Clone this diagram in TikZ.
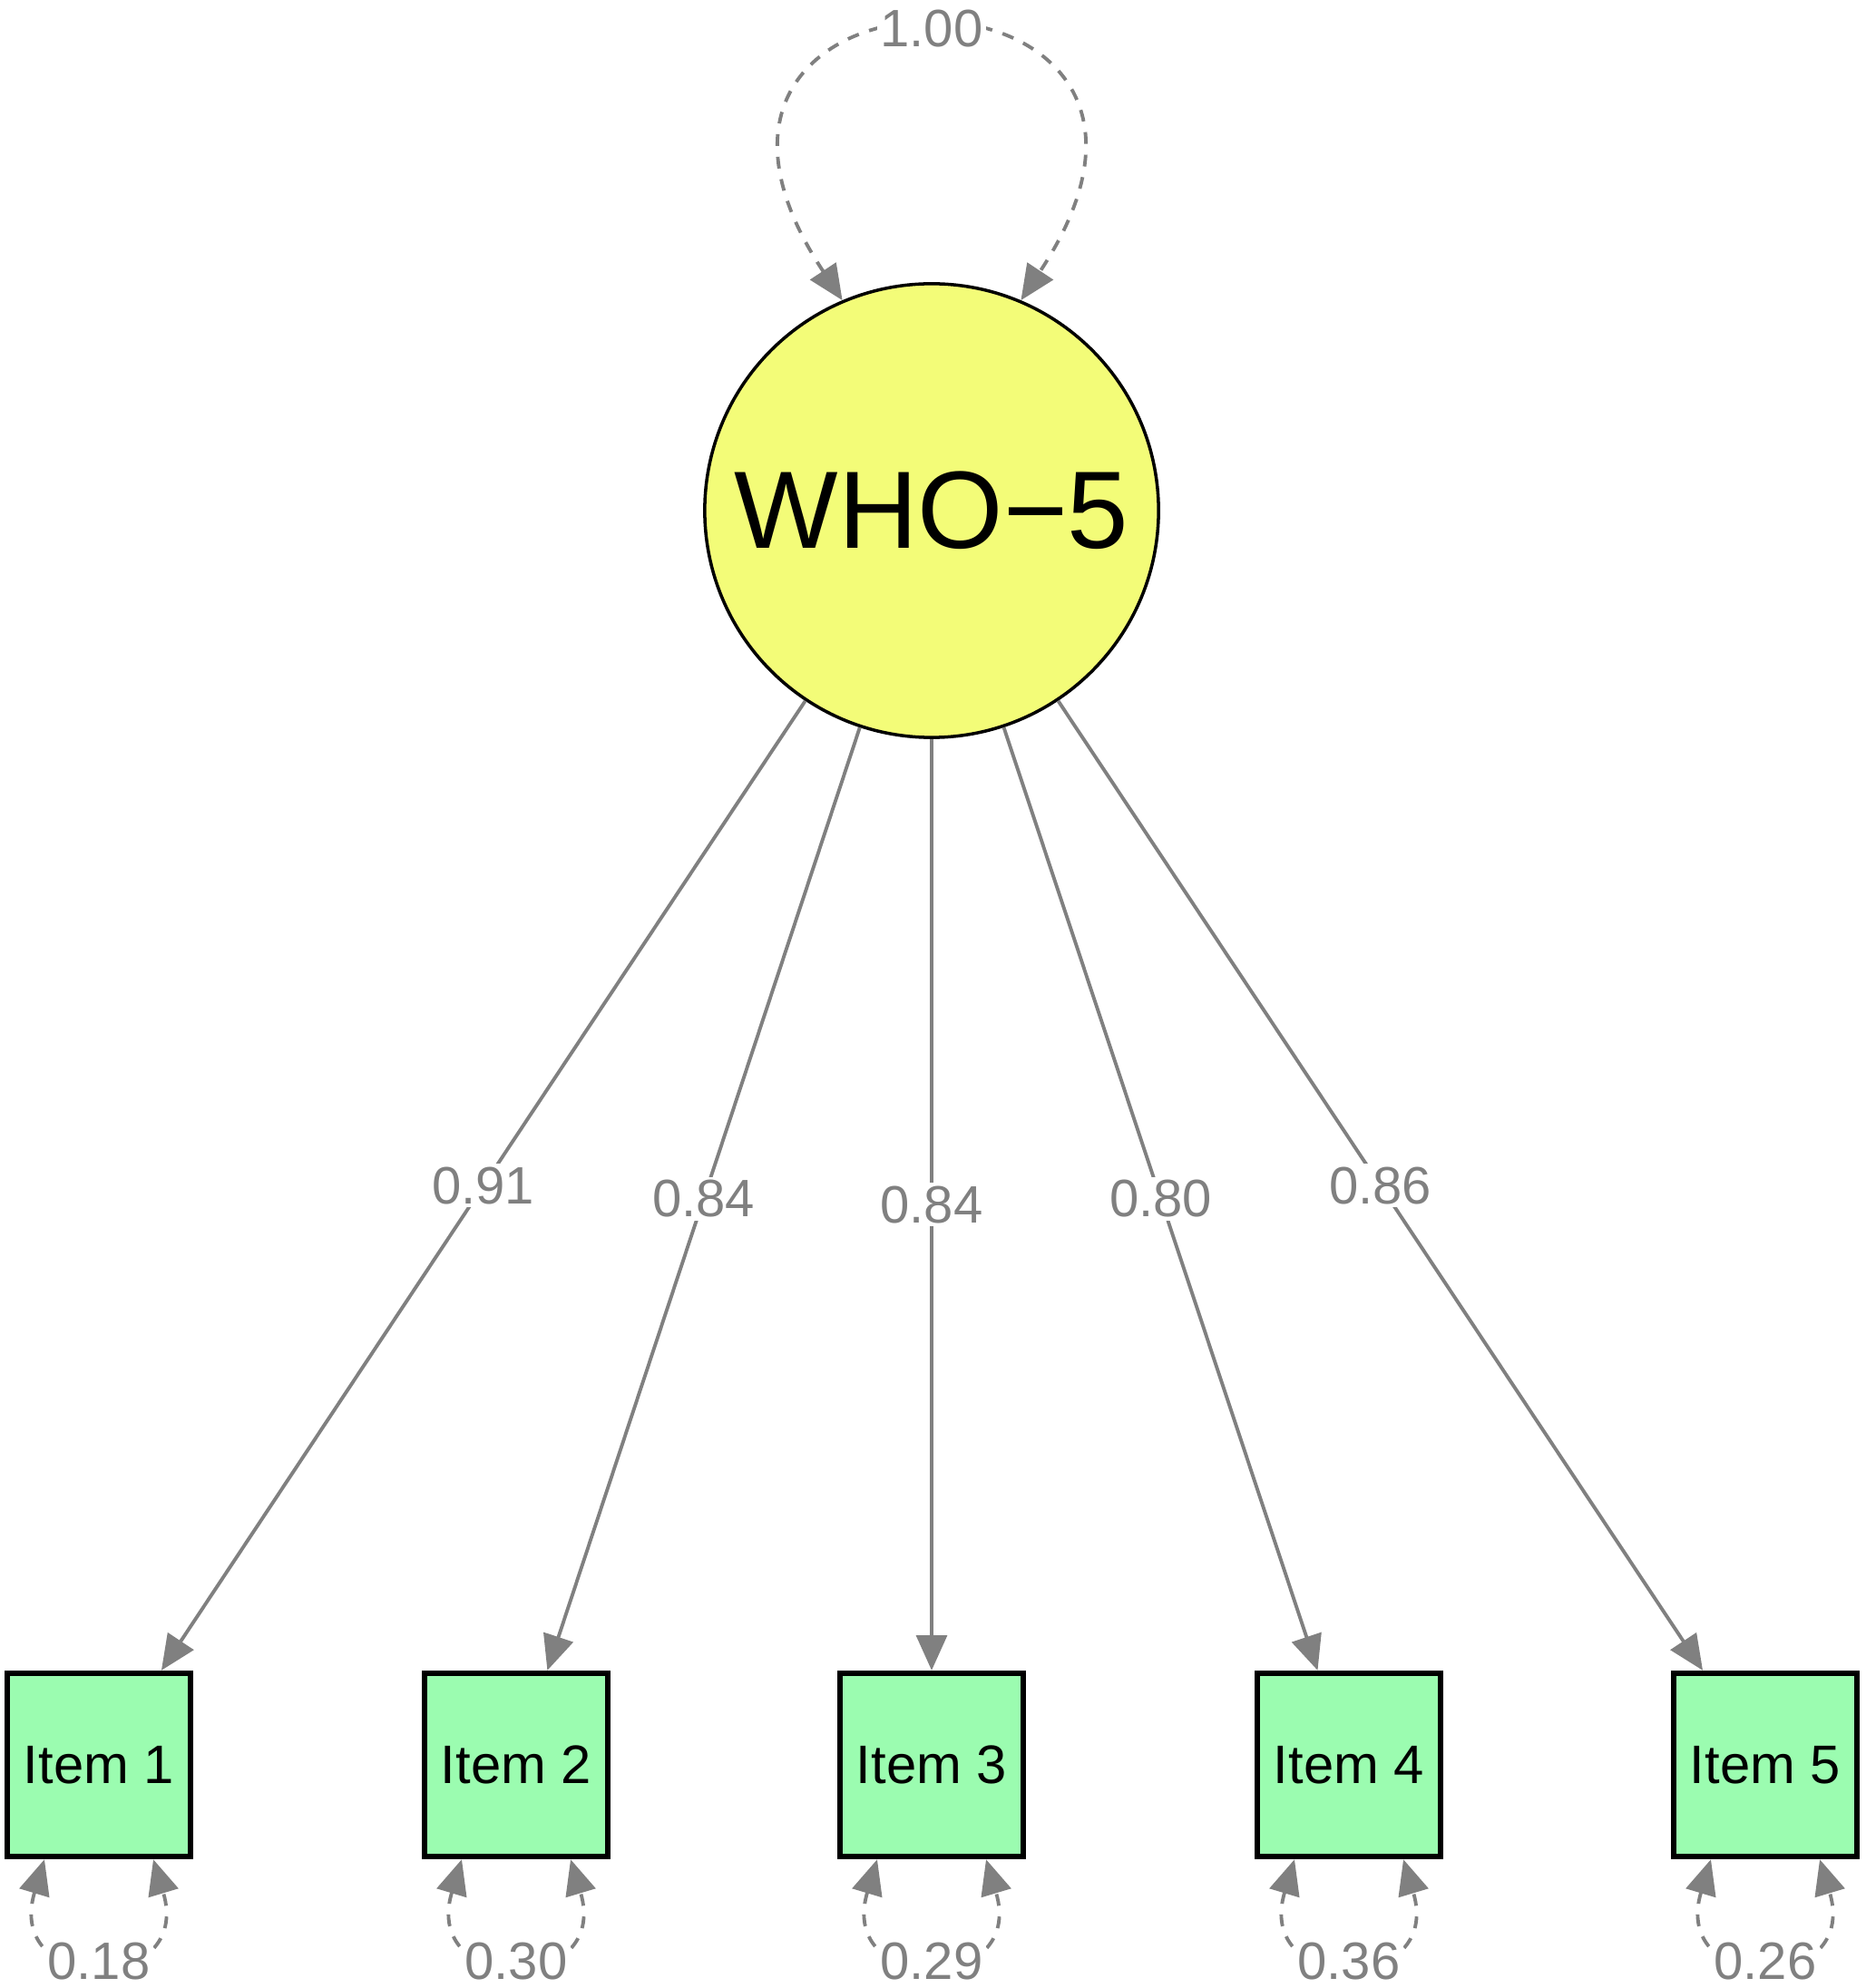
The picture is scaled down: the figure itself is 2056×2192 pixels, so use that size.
\documentclass[tikz,border=0pt]{standalone}
\usepackage{fontspec}
\setmainfont{Liberation Sans}
\usetikzlibrary{arrows.meta}
\definecolor{eg}{RGB}{128,128,128}
\definecolor{lat}{RGB}{243,252,120}
\definecolor{man}{RGB}{155,252,176}

\begin{document}
\begin{tikzpicture}[>={Triangle[length=11pt,width=9.6pt]},x=.01cm,y=-.01cm,
 every node/.style={font=\fontsize{16.5}{18}\selectfont},
 latent/.style={circle,draw=black,line width=1pt,fill=lat,minimum size=5cm,inner sep=0pt,font=\fontsize{34.5}{40}\selectfont},
 manifest/.style={rectangle,draw=black,line width=1.8pt,fill=man,minimum size=2.02cm,inner sep=0pt,font=\fontsize{17}{19}\selectfont},
 load/.style={draw=eg,line width=1.1pt,->},
 var/.style={draw=eg,line width=1.1pt,<->,dash pattern=on 3.7pt off 3.4pt},
 est/.style={text=eg,fill=white,inner sep=1pt}]
\useasboundingbox (0,0) rectangle (2056,2192);
% latent factor and items
\node[latent] (wh) at (1027,563) {WHO−5};
\node[manifest] (i1) at (109,1946) {Item 1};\node[manifest] (i2) at (569,1946) {Item 2};
\node[manifest] (i3) at (1027,1946) {Item 3};\node[manifest] (i4) at (1487,1946) {Item 4};
\node[manifest] (i5) at (1946,1946) {Item 5};
% loadings
\draw[load] (wh) -- node[est]{0.91} (i1);\draw[load] (wh) -- node[est]{0.84} (i2);
\draw[load] (wh) -- node[est]{0.84} (i3);\draw[load] (wh) -- node[est]{0.80} (i4);
\draw[load] (wh) -- node[est]{0.86} (i5);
% variances
\draw[var] (wh.113) .. controls +(-265,-400) and +(265,-400) .. (wh.67) node[pos=.5,est]{1.00};
\draw[var] ([xshift=-.6cm]i1.south) .. controls +(-45,150) and +(45,150) .. ([xshift=.6cm]i1.south) node[pos=.5,est]{0.18};
\draw[var] ([xshift=-.6cm]i2.south) .. controls +(-45,150) and +(45,150) .. ([xshift=.6cm]i2.south) node[pos=.5,est]{0.30};
\draw[var] ([xshift=-.6cm]i3.south) .. controls +(-45,150) and +(45,150) .. ([xshift=.6cm]i3.south) node[pos=.5,est]{0.29};
\draw[var] ([xshift=-.6cm]i4.south) .. controls +(-45,150) and +(45,150) .. ([xshift=.6cm]i4.south) node[pos=.5,est]{0.36};
\draw[var] ([xshift=-.6cm]i5.south) .. controls +(-45,150) and +(45,150) .. ([xshift=.6cm]i5.south) node[pos=.5,est]{0.26};
\end{tikzpicture}
\end{document}
